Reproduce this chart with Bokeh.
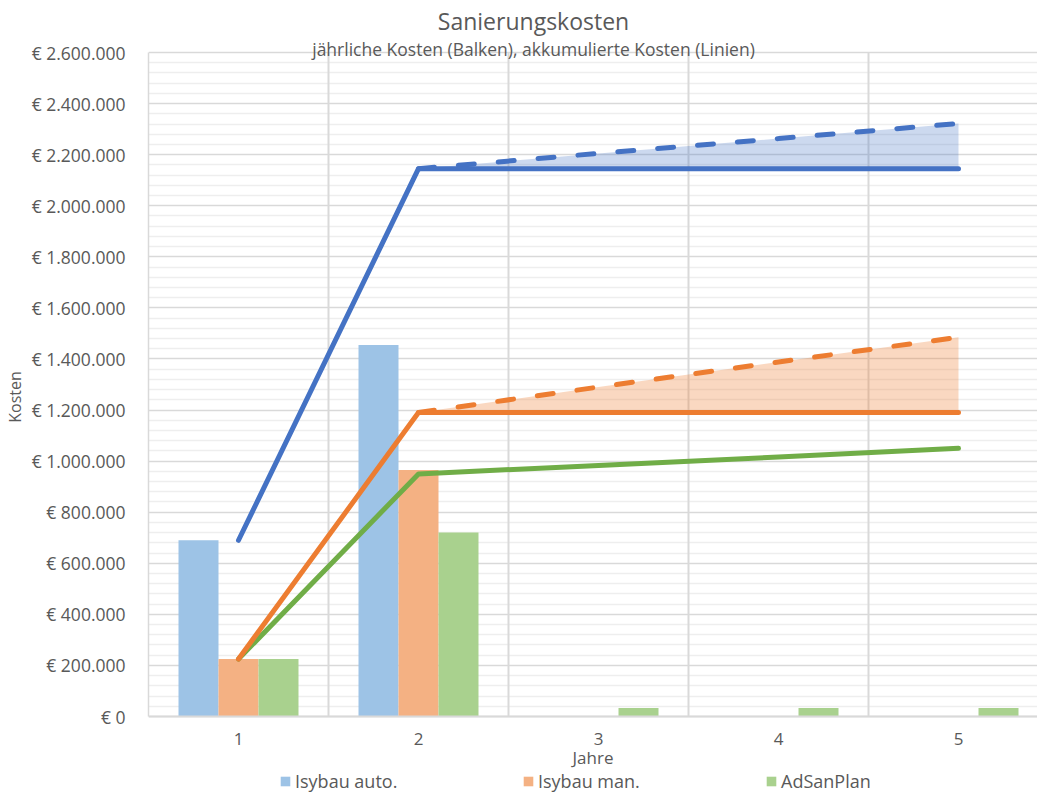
from bokeh.plotting import figure
from bokeh.models import (FixedTicker, Legend, LegendItem, Label, Range1d,
                          ColumnDataSource)
from bokeh.transform import dodge
from bokeh.embed import file_html
from bokeh.resources import INLINE

# ---------------- data ----------------
years = [1, 2, 3, 4, 5]
series_names = ["Isybau auto.", "Isybau man.", "AdSanPlan"]

# yearly costs (bars)
bar_auto = [690000, 1455000, 0, 0, 0]
bar_man = [225000, 965000, 0, 0, 0]
bar_adsan = [225000, 720000, 33000, 33000, 33000]

# accumulated costs (lines)
cum_auto = [690000, 2145000, 2145000, 2145000, 2145000]
cum_man = [225000, 1190000, 1190000, 1190000, 1190000]
cum_adsan = [225000, 950000, 983000, 1016000, 1050000]

# accumulated costs incl. follow-up costs (dashed lines, from year 2)
years_dash = [2, 3, 4, 5]
cum_auto_dash = [2145000, 2205000, 2263000, 2322000]
cum_man_dash = [1190000, 1290000, 1388000, 1485000]

y_ticks = [0, 200000, 400000, 600000, 800000, 1000000, 1200000, 1400000,
           1600000, 1800000, 2000000, 2200000, 2400000, 2600000]
y_tick_labels = ["€ 0", "€ 200.000", "€ 400.000", "€ 600.000", "€ 800.000",
                 "€ 1.000.000", "€ 1.200.000", "€ 1.400.000", "€ 1.600.000",
                 "€ 1.800.000", "€ 2.000.000", "€ 2.200.000", "€ 2.400.000",
                 "€ 2.600.000"]
x_tick_labels = ["1", "2", "3", "4", "5"]

title_text = "Sanierungskosten"
subtitle_text = "jährliche Kosten (Balken), akkumulierte Kosten (Linien)"

# ---------------- layout constants (pixels) ----------------
FIG_W, FIG_H = 1037, 793
LEFT = 148            # frame left inside figure
PLOT_TOP = 52         # value axis top (2.6M) from figure top
PLOT_BOTTOM = 716     # value axis zero from figure top
CAT_PX = 180.0        # pixels per category
Y_MAX = 2600000
k = Y_MAX / (PLOT_BOTTOM - PLOT_TOP)      # data units per pixel
y_lo = -(FIG_H - PLOT_BOTTOM) * k
y_hi = Y_MAX + PLOT_TOP * k
x_lo = 0.5
x_hi = x_lo + (FIG_W - LEFT) / CAT_PX

# ---------------- styling ----------------
FONT = "Open Sans"
TXT = "#595959"
BLUE, ORANGE, GREEN = "#4472C4", "#ED7D31", "#70AD47"
BLUE_B, ORANGE_B, GREEN_B = "#9DC3E6", "#F4B183", "#A9D18E"
GRID = "#D9D9D9"

p = figure(width=FIG_W, height=FIG_H, output_backend="svg", toolbar_location=None,
           x_range=Range1d(x_lo, x_hi), y_range=Range1d(y_lo, y_hi),
           min_border_left=LEFT, min_border_right=0, min_border_top=0,
           min_border_bottom=0)
p.outline_line_color = None
p.background_fill_color = "white"

# y axis
minor = [v for v in range(0, Y_MAX + 1, 40000) if v % 200000 != 0]
p.yaxis.ticker = FixedTicker(ticks=y_ticks, minor_ticks=minor)
p.yaxis.bounds = (0, Y_MAX)
p.yaxis.major_label_overrides = {t: l for t, l in zip(y_ticks, y_tick_labels)}
p.yaxis.axis_line_color = GRID
p.yaxis.axis_line_width = 1.5
p.yaxis.major_tick_line_color = None
p.yaxis.minor_tick_line_color = None
p.yaxis.major_label_standoff = 17
p.yaxis.major_label_text_font = FONT
p.yaxis.major_label_text_font_size = "17.5px"
p.yaxis.major_label_text_color = TXT
p.yaxis.axis_label = "Kosten"
p.yaxis.axis_label_text_font = FONT
p.yaxis.axis_label_text_font_style = "normal"
p.yaxis.axis_label_text_font_size = "16px"
p.yaxis.axis_label_text_color = TXT
p.yaxis.axis_label_standoff = 3

p.ygrid.grid_line_color = GRID
p.ygrid.grid_line_width = 1.5
p.ygrid.minor_grid_line_color = "#EEEEEE"
p.ygrid.minor_grid_line_width = 1.5

# x axis, fixed at zero
p.xaxis.fixed_location = 0
p.xaxis.ticker = FixedTicker(ticks=years)
p.xaxis.major_label_overrides = {y: l for y, l in zip(years, x_tick_labels)}
p.xaxis.axis_line_color = GRID
p.xaxis.axis_line_width = 2
p.xaxis.major_tick_line_color = None
p.xaxis.minor_tick_line_color = None
p.xaxis.major_label_standoff = 10
p.xaxis.major_label_text_font = FONT
p.xaxis.major_label_text_font_size = "17px"
p.xaxis.major_label_text_color = TXT
p.xaxis.axis_label = "Jahre"
p.xaxis.axis_label_text_font = FONT
p.xaxis.axis_label_text_font_style = "normal"
p.xaxis.axis_label_text_font_size = "17px"
p.xaxis.axis_label_text_color = TXT
p.xaxis.axis_label_standoff = -2

# vertical category separators (only within the value area)
p.xgrid.grid_line_color = None
bounds = [y + 0.5 for y in years[:-1]]
p.segment(x0=bounds, y0=[0] * len(bounds), x1=bounds, y1=[Y_MAX] * len(bounds),
          line_color=GRID, line_width=2)

# bars
src = ColumnDataSource(dict(x=years, auto=bar_auto, man=bar_man, adsan=bar_adsan))
bw = 0.2222
r_auto = p.vbar(x=dodge("x", -bw, range=p.x_range), top="auto", width=bw,
                source=src, fill_color=BLUE_B, line_color=None)
r_man = p.vbar(x=dodge("x", 0, range=p.x_range), top="man", width=bw,
               source=src, fill_color=ORANGE_B, line_color=None)
r_adsan = p.vbar(x=dodge("x", bw, range=p.x_range), top="adsan", width=bw,
                 source=src, fill_color=GREEN_B, line_color=None)

# shaded areas between accumulated and accumulated incl. follow-up costs
p.varea(x=years_dash, y1=cum_auto[1:], y2=cum_auto_dash,
        fill_color=BLUE, fill_alpha=0.27)
p.varea(x=years_dash, y1=cum_man[1:], y2=cum_man_dash,
        fill_color=ORANGE, fill_alpha=0.3)

# lines
LW = 5
p.line(years_dash, cum_auto_dash, line_color=BLUE, line_width=LW,
       line_dash="16 24", line_cap="round")
p.line(years_dash, cum_man_dash, line_color=ORANGE, line_width=LW,
       line_dash="16 24", line_cap="round")
p.line(years, cum_adsan, line_color=GREEN, line_width=LW, line_cap="round",
       line_join="round")
p.line(years, cum_man, line_color=ORANGE, line_width=LW, line_cap="round",
       line_join="round")
p.line(years, cum_auto, line_color=BLUE, line_width=LW, line_cap="round",
       line_join="round")

# legend (bars only)
legend = Legend(items=[LegendItem(label=series_names[0], renderers=[r_auto]),
                       LegendItem(label=series_names[1], renderers=[r_man]),
                       LegendItem(label=series_names[2], renderers=[r_adsan])],
                orientation="horizontal", location=(283 - LEFT - 4, 0),
                glyph_width=12, glyph_height=12, label_standoff=4,
                label_width=120, spacing=107, padding=0, margin=0,
                border_line_color=None, background_fill_alpha=0,
                label_text_font=FONT, label_text_font_size="18px",
                label_text_color=TXT)
p.add_layout(legend, "center")

# title and subtitle
title_x = x_lo + (533 - LEFT) / CAT_PX
p.add_layout(Label(x=title_x, y=Y_MAX + (PLOT_TOP - 20) * k, text=title_text,
                   text_align="center", text_baseline="middle",
                   text_font=FONT, text_font_size="23px", text_color=TXT))
p.add_layout(Label(x=title_x, y=Y_MAX + (PLOT_TOP - 48) * k, text=subtitle_text,
                   text_align="center", text_baseline="middle",
                   text_font=FONT, text_font_size="17.5px", text_color=TXT))

open("out.html", "w").write(file_html(p, INLINE))
